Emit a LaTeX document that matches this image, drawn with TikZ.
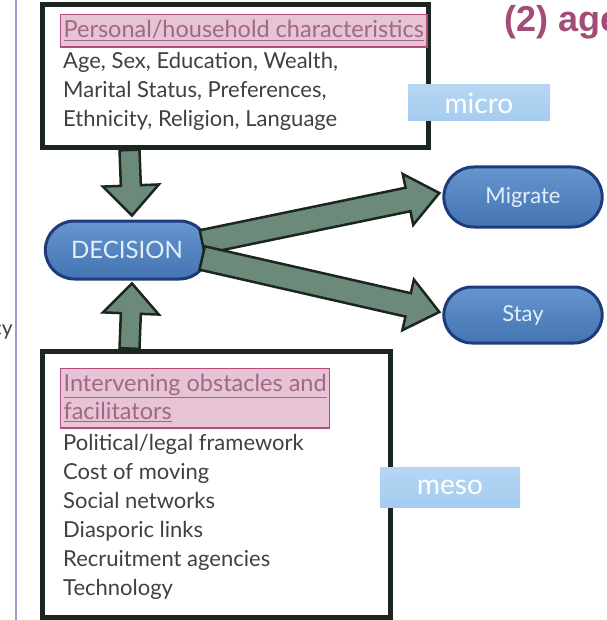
\documentclass[tikz,border=0pt]{standalone}
\usepackage{fontspec}
\setmainfont{Lato}
\newfontfamily\headfont{Liberation Sans}
\usetikzlibrary{positioning}
\usetikzlibrary{calc}
\usetikzlibrary{shapes.misc}
\definecolor{boxline}{HTML}{1C2620}
\definecolor{arrowfill}{HTML}{6C8A7A}
\definecolor{pillfill}{HTML}{4B82C6}
\definecolor{pillline}{HTML}{1E3C7C}
\definecolor{pilltext}{HTML}{E4EEF8}
\definecolor{hlfill}{HTML}{E6C4D4}
\definecolor{hlline}{HTML}{B04C80}
\definecolor{hltext}{HTML}{A06888}
\definecolor{bodytext}{HTML}{404040}
\definecolor{titletext}{HTML}{A34C78}
\definecolor{leftrule}{HTML}{9C9CCC}
\definecolor{levelfill}{HTML}{A4CCF0}
\tikzset{
  frame box/.style={draw=boxline,line width=5pt,inner sep=0pt},
  hilite/.style={fill=hlfill,draw=hlline,line width=1.2pt,inner xsep=3pt,inner ysep=6pt,
    text=hltext,anchor=north west,align=left,font=\fontsize{23.5}{28}\selectfont},
  body/.style={text=bodytext,anchor=north west,align=left,inner sep=0pt,
    font=\fontsize{22}{29}\selectfont},
  pill/.style={rounded rectangle,draw=pillline,line width=3pt,
    top color=pillfill!85!white,bottom color=pillfill!90!black,
    text=pilltext,font=\fontsize{22}{25}\selectfont,minimum height=58pt},
  level/.style={top color=levelfill!80!white,bottom color=levelfill,
    text=white,inner sep=0pt,font=\fontsize{28}{30}\selectfont},
}
% fat block arrow: shaft half width, head half width, head length, from, to
\newcommand{\fatarrow}[5]{%
  \path[draw=boxline,fill=arrowfill,line width=2.5pt,line join=miter]
    let \p1=#4, \p2=#5, \n1={atan2(\y2-\y1,\x2-\x1)},
        \n2={veclen(\x2-\x1,\y2-\y1)} in
    [shift={(\p1)},rotate=\n1]
    (0pt,-#1pt) -- ({\n2*1pt-#3pt},-#1pt) -- ({\n2*1pt-#3pt},-#2pt)
    -- ({\n2*1pt},0pt) -- ({\n2*1pt-#3pt},#2pt) -- ({\n2*1pt-#3pt},#1pt)
    -- (0pt,#1pt) -- cycle;}

\begin{document}
\begin{tikzpicture}[x=1pt,y=-1pt]
    \useasboundingbox (0,0) rectangle (606,620);
    \draw[leftrule,line width=2pt] (16,-5) -- (16,625);
    \node[text=bodytext,anchor=base east,inner sep=0pt,
      font=\fontsize{21}{25}\selectfont] (cutoff) at (13,335) {cy};
    \node[text=titletext,anchor=base west,inner sep=0pt,
      font=\headfont\bfseries\fontsize{36}{40}\selectfont] (title) at (504,32) {(2) age};

    % micro level
    \node[frame box,minimum width=386pt,minimum height=143pt] (topbox) at (235,76) {};
    \node[hilite] (perhead) at (60,14) {\underline{Personal/household characteristics}};
    \node[body] (perlist) at ($(perhead.south west)+(3,5)$)
      {Age, Sex, Education, Wealth,\\Marital Status, Preferences,\\Ethnicity, Religion, Language};
    \node[level,minimum width=142pt,minimum height=36pt] (micro) at (479,103) {micro};

    % meso level
    \node[frame box,minimum width=348pt,minimum height=266pt] (botbox) at (216,484) {};
    \node[hilite] (obshead) at (60,368)
      {\underline{Intervening obstacles and}\\\underline{facilitators}};
    \node[body] (obslist) at ($(obshead.south west)+(3,5)$)
      {Political/legal framework\\Cost of moving\\Social networks\\Diasporic links\\Recruitment agencies\\Technology};
    \node[level,minimum width=140pt,minimum height=40pt] (meso) at (450,487) {meso};

    % decision and outcomes
    \node[pill,minimum width=170pt,font=\fontsize{24}{26}\selectfont] (decision) at (127,250) {DECISION};
    \node[pill,minimum width=165pt,minimum height=60pt] (migrate) at (523,197) {Migrate};
    \node[pill,minimum width=165pt,minimum height=56pt] (stay) at (523,315) {Stay};

    \fatarrow{10}{28}{30}{($(topbox.south west)+(90,0)$)}{($(decision.north)+(5,-4)$)}
    \fatarrow{10}{28}{30}{($(botbox.north west)+(90,0)$)}{($(decision.south)+(5,3)$)}
    \fatarrow{12}{26}{32}{($(decision.east)+(-8,-8)$)}{($(migrate.west)+(-3,-4)$)}
    \fatarrow{12}{26}{32}{($(decision.east)+(-8,8)$)}{($(stay.west)+(-3,-3)$)}
\end{tikzpicture}
\end{document}
